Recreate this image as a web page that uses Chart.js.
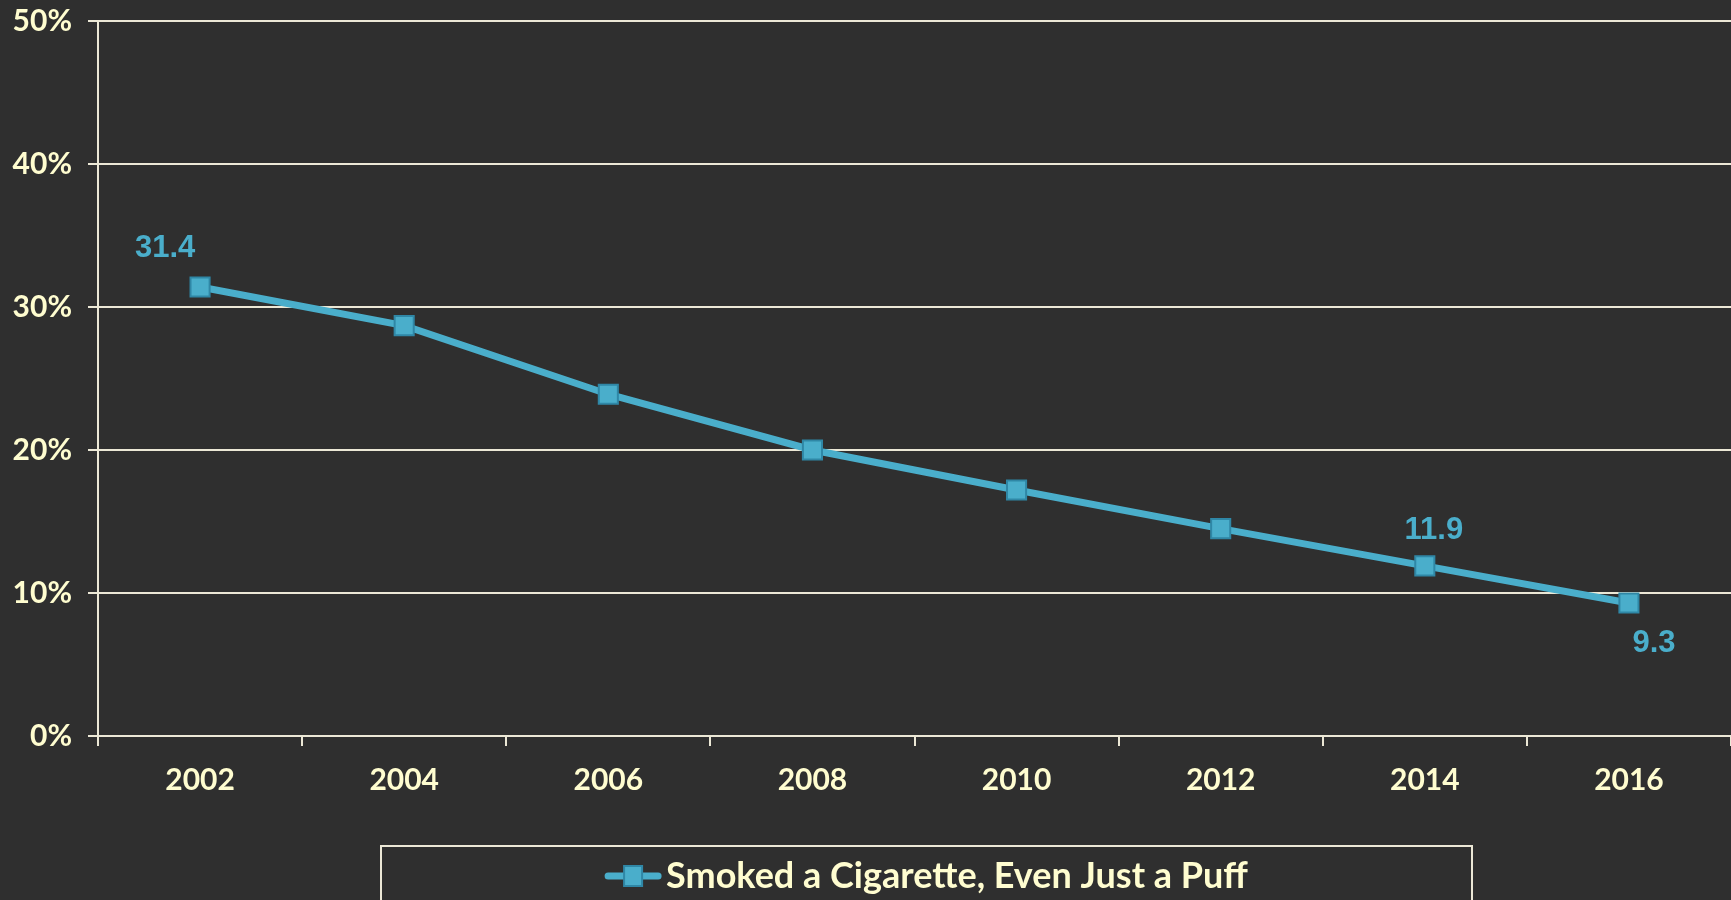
<!DOCTYPE html>
<html>
<head>
<meta charset="utf-8">
<script src="https://cdn.jsdelivr.net/npm/chart.js@4.4.0/dist/chart.umd.min.js"></script>
<style>
    html, body { margin: 0; padding: 0; background: #2f2f2f; overflow: hidden; }
    #wrap { width: 1731px; height: 900px; }
    canvas { display: block; }
</style>
</head>
<body>
<div id="wrap"><canvas id="smokeChart" width="1731" height="900"></canvas></div>
<script>
// Chart data
const years = ['2002', '2004', '2006', '2008', '2010', '2012', '2014', '2016'];
const smokedValues = [31.4, 28.7, 23.9, 20.0, 17.2, 14.5, 11.9, 9.3];
const yTicks = [0, 10, 20, 30, 40, 50];
const labelledPoints = [0, 6, 7];
const seriesName = 'Smoked a Cigarette, Even Just a Puff';

const CREAM = '#fffdd0';
const GRID = '#ece8d6';
const BLUE = '#4aaecb';
const BLUE_DARK = '#2f87a6';

// Value labels next to selected points
const valueLabels = {
    id: 'valueLabels',
    afterDatasetsDraw(chart, args, opts) {
        const ctx = chart.ctx;
        const meta = chart.getDatasetMeta(0);
        ctx.save();
        ctx.font = 'bold 31px "Liberation Sans", Arial, sans-serif';
        ctx.fillStyle = BLUE;
        ctx.textAlign = 'center';
        ctx.textBaseline = 'middle';
        labelledPoints.forEach(i => {
            const pt = meta.data[i];
            const off = opts.offsets[i] || [0, -38];
            ctx.fillText(smokedValues[i].toFixed(1), pt.x + off[0], pt.y + off[1]);
        });
        ctx.restore();
    }
};

// Boxed legend at the bottom
const boxLegend = {
    id: 'boxLegend',
    afterDraw(chart) {
        const ctx = chart.ctx;
        const ds = chart.data.datasets[0];
        ctx.save();
        ctx.strokeStyle = GRID;
        ctx.lineWidth = 2;
        ctx.strokeRect(381, 846, 1091, 120);

        ctx.font = 'bold 36px Lato, "Open Sans", sans-serif';
        const textW = ctx.measureText(ds.label).width;
        const symW = 58;
        const total = symW + 4 + textW;
        const x0 = 926 - total / 2;
        const cy = 876;

        ctx.strokeStyle = ds.borderColor;
        ctx.lineWidth = 7;
        ctx.lineCap = 'round';
        ctx.beginPath();
        ctx.moveTo(x0 + 4, cy);
        ctx.lineTo(x0 + symW - 4, cy);
        ctx.stroke();

        ctx.fillStyle = ds.pointBackgroundColor;
        ctx.strokeStyle = ds.pointBorderColor;
        ctx.lineWidth = 2;
        ctx.fillRect(x0 + symW / 2 - 9, cy - 10, 18, 20);
        ctx.strokeRect(x0 + symW / 2 - 9, cy - 10, 18, 20);

        ctx.fillStyle = CREAM;
        ctx.textAlign = 'left';
        ctx.textBaseline = 'middle';
        ctx.fillText(ds.label, x0 + symW + 4, cy);
        ctx.restore();
    }
};

const bgPlugin = {
    id: 'bg',
    beforeDraw(chart) {
        const ctx = chart.ctx;
        ctx.save();
        ctx.fillStyle = '#2f2f2f';
        ctx.fillRect(0, 0, chart.width, chart.height);
        ctx.restore();
    }
};

new Chart(document.getElementById('smokeChart'), {
    type: 'line',
    data: {
        labels: years,
        datasets: [{
            label: seriesName,
            data: smokedValues,
            borderColor: BLUE,
            borderWidth: 7,
            pointStyle: 'rect',
            pointRadius: 13.5,
            pointHoverRadius: 13.5,
            pointBackgroundColor: BLUE,
            pointBorderColor: BLUE_DARK,
            pointBorderWidth: 2,
            tension: 0
        }]
    },
    options: {
        responsive: false,
        animation: false,
        devicePixelRatio: 1,
        layout: { autoPadding: false, padding: { top: 21, right: -7, bottom: 0, left: 0 } },
        plugins: {
            legend: { display: false },
            tooltip: { enabled: false },
            valueLabels: {
                offsets: { 0: [-35, -39], 6: [9, -35], 7: [25, 40] }
            }
        },
        scales: {
            x: {
                type: 'category',
                offset: true,
                afterFit(scale) {
                    scale.height = 164;
                    scale.paddingLeft = 0;
                    scale.paddingRight = 0;
                },
                grid: {
                    offset: true,
                    drawOnChartArea: false,
                    drawTicks: true,
                    tickLength: 10,
                    color: GRID,
                    lineWidth: 2
                },
                border: { color: GRID, width: 2 },
                ticks: {
                    color: CREAM,
                    padding: 16,
                    font: { family: 'Lato', weight: 'bold', size: 30 }
                }
            },
            y: {
                min: 0,
                max: 50,
                afterFit(scale) {
                    scale.width = 98;
                    scale.paddingTop = 0;
                    scale.paddingBottom = 0;
                },
                afterBuildTicks(scale) {
                    scale.ticks = yTicks.map(v => ({ value: v }));
                },
                grid: {
                    color: GRID,
                    lineWidth: 2,
                    drawTicks: true,
                    tickLength: 10
                },
                border: { color: GRID, width: 2 },
                ticks: {
                    color: CREAM,
                    padding: 16,
                    callback: v => v + '%',
                    font: { family: 'Lato', weight: 'bold', size: 30 }
                }
            }
        }
    },
    plugins: [bgPlugin, valueLabels, boxLegend]
});
</script>
</body>
</html>
